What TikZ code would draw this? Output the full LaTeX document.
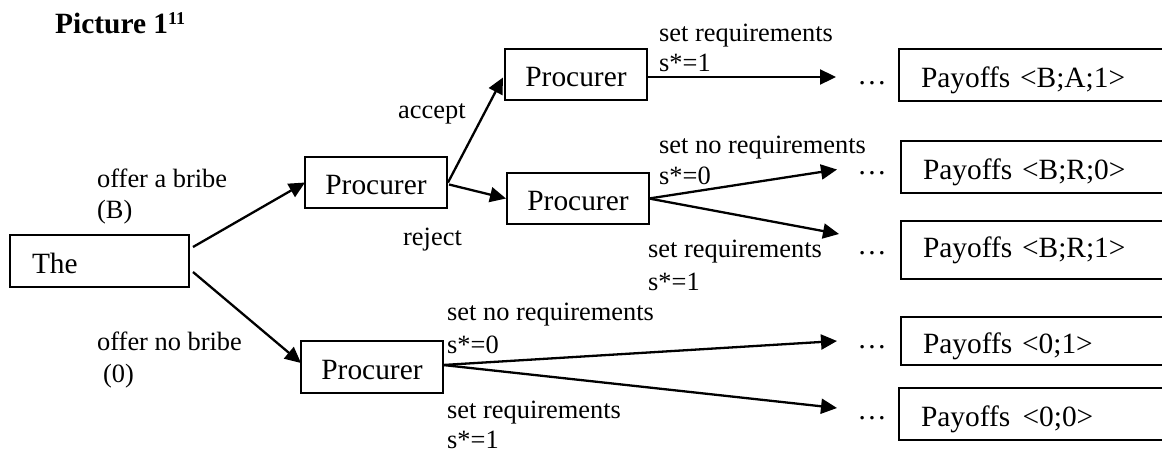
\documentclass[tikz,border=0pt]{standalone}
\usepackage{fontspec}
\setmainfont{Liberation Serif}
\usetikzlibrary{arrows.meta,calc}
\begin{document}
\begin{tikzpicture}[x=1pt,y=-1pt,
  box/.style={draw, line width=1.8pt, rectangle, outer sep=0pt, inner ysep=0pt,
    text height=24pt, text depth=0pt, font=\fontsize{29.4}{34}\selectfont},
  proc/.style={box, minimum width=142pt, minimum height=51pt, inner xsep=0pt},
  pay/.style={box, anchor=north west, minimum height=52pt, inner xsep=22pt,
    text width=250pt, align=left},
  lbl/.style={anchor=base west, inner sep=0pt, font=\fontsize{26.4}{30}\selectfont},
  dotsnode/.style={anchor=base, inner sep=0pt, font=\fontsize{29.4}{34}\selectfont},
  arr/.style={-{Triangle[length=16pt,width=15pt]}, line width=2.3pt}]
\useasboundingbox (0,0) rectangle (1162,453);
\clip (0,0) rectangle (1162,453);

% title
\node[anchor=base west, inner sep=0pt, font=\fontsize{29.4}{34}\selectfont\bfseries] (title) at (55,33)
  {Picture 1\raisebox{9pt}{\fontsize{18}{18}\selectfont\bfseries 11}};

% nodes
\node[box, minimum width=179pt, minimum height=52pt, inner xsep=22pt, text width=135pt, align=left] (the) at (99.5,261) {The};
\node[proc] (p1) at (376,182.5) {Procurer};
\node[proc] (p2) at (576,74.5) {Procurer};
\node[proc] (p3) at (578,198.5) {Procurer};
\node[proc, minimum height=52pt] (p4) at (372,367) {Procurer};

\node[pay] (pa1) at (899,49) {Payoffs <B;A;1>};
\node[pay] (pr0) at (901,141) {Payoffs <B;R;0>};
\node[pay, minimum height=58pt, text height=14pt] (pr1) at (901,221) {Payoffs <B;R;1>};
\node[pay, minimum height=48pt, text height=24pt] (p01) at (901,317) {Payoffs <0;1>};
\node[pay] (p00) at (899,388) {Payoffs \hspace{2.5pt}<0;0>};

% ellipses
\node[dotsnode] (d1) at (872,84) {…};
\node[dotsnode] (d2) at (872,174) {…};
\node[dotsnode] (d3) at (872,254) {…};
\node[dotsnode] (d4) at (872,348) {…};
\node[dotsnode] (d5) at (872,419) {…};

% connectors
\draw[arr] ($(the.north east)+(4,12)$) -- (p1.west);
\draw[arr] ($(the.south east)+(4,-15)$) -- ($(p4.west)+(0,-4)$);
\draw[arr] ($(p1.east)+(1,0)$) -- ($(p2.west)+(-2,3)$);
\draw[arr] ($(p1.east)+(2,2)$) -- ($(p3.west)+(-1,0)$);
\draw[arr] ($(p2.east)+(0,2.5)$) -- ($(pa1.west)+(-63,2)$);
\draw[arr] (p3.east) -- ($(pr0.west)+(-64,2.5)$);
\draw[arr] (p3.east) -- ($(pr1.west)+(-62,-16)$);
\draw[arr] ($(p4.east)+(0,-2)$) -- ($(p01.west)+(-64,0)$);
\draw[arr] ($(p4.east)+(0,-2)$) -- ($(p00.west)+(-62,-6)$);

% labels
\node[lbl] (l1a) at (97,187) {offer a bribe};
\node[lbl] (l1b) at (97,218) {(B)};
\node[lbl] (l2a) at (97,350) {offer no bribe};
\node[lbl] (l2b) at (103,382) {(0)};
\node[lbl] (acc) at (398,118) {accept};
\node[lbl] (rej) at (403,245) {reject};
\node[lbl] (l3a) at (659,41) {set requirements};
\node[lbl] (l3b) at (659,71) {s*=1};
\node[lbl] (l4a) at (659,153) {set no requirements};
\node[lbl] (l4b) at (659,184) {s*=0};
\node[lbl] (l5a) at (648,257) {set requirements};
\node[lbl] (l5b) at (648,290) {s*=1};
\node[lbl] (l6a) at (447,320) {set no requirements};
\node[lbl] (l6b) at (447,353) {s*=0};
\node[lbl] (l7a) at (447,418) {set requirements};
\node[lbl] (l7b) at (447,448) {s*=1};
\end{tikzpicture}
\end{document}
